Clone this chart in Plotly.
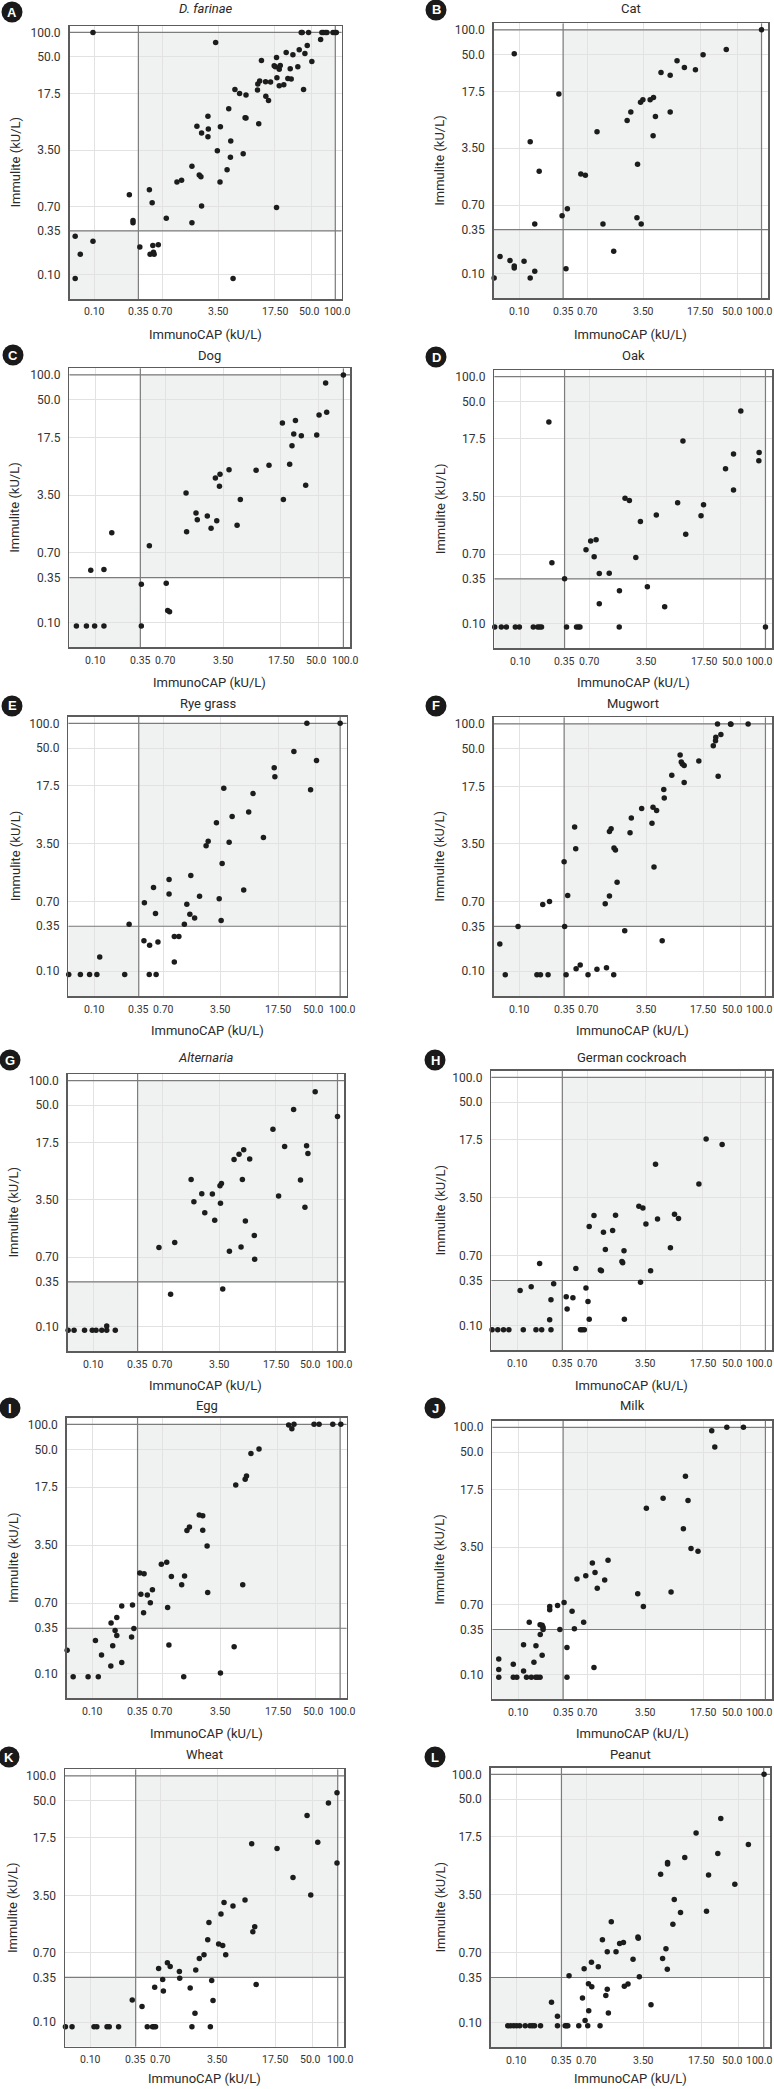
import math
import plotly.graph_objects as go

# ---------------- data (kU/L): ImmunoCAP (x) vs Immulite (y) ----------------
TICK_VALS = [0.1, 0.35, 0.7, 3.5, 17.5, 50, 100]
X_TICK_TEXT = ["0.10", "0.35", "0.70", "3.50", "17.50", "50.0", "100.0"]
Y_TICK_TEXT = ["0.10", "0.35", "0.70", "3.50", "17.5", "50.0", "100.0"]
CUTOFF = 0.35
UPPER = 100

a_cap = [0.095, 0.057, 0.095, 0.066, 0.057, 0.27, 0.30, 0.30, 0.365, 0.48, 0.52, 0.49, 0.53, 0.54, 0.55, 0.62,
         0.78, 1.06, 1.21, 1.63, 1.63, 2.01, 2.11, 1.88, 2.15, 2.15, 2.58, 2.61, 2.58, 3.22, 3.38, 3.65, 3.69,
         4.47, 4.69, 4.97, 4.92, 5.31, 5.6, 6.4, 7.1, 7.5, 7.7, 7.7, 10.7, 10.8, 11.1, 11.4, 12, 13.5, 13.6,
         14.7, 15.6, 17.3, 17.9, 18.5, 18.5, 18.7, 20, 20, 20.6, 22.8, 24.4, 25.6, 28.2, 27.4, 29.6, 34.1, 35.5,
         37.6, 38.7, 40.2, 41.8, 44.7, 46.4, 51, 65.6, 68, 70.8, 75, 78.7, 93.6, 99, 103]
a_imm = [100, 0.30, 0.26, 0.18, 0.090, 0.98, 0.44, 0.47, 0.22, 1.13, 0.78, 0.18, 0.23, 0.19, 0.18, 0.235,
         0.50, 1.41, 1.48, 2.21, 0.44, 1.72, 1.64, 6.9, 5.7, 0.71, 9.2, 6.4, 5.1, 75, 3.44, 1.41, 6.8,
         2.0, 11.4, 4.54, 2.85, 0.090, 19.7, 17.5, 3.16, 8.8, 8.7, 16.8, 19.4, 23, 7.4, 25, 45, 24.5, 16.2,
         14.4, 24.3, 38.7, 37.7, 49, 0.68, 27.5, 21.9, 35, 39, 22.5, 56.6, 27, 26.5, 35.6, 53, 37.7, 61,
         100, 100, 19.7, 55, 69, 100, 43.8, 82, 100, 100, 100, 100, 100, 100, 100]

b_cap = [0.087, 0.31, 0.137, 0.177, 0.156, 0.34, 0.395, 0.058, 0.077, 0.087, 0.087, 0.115, 0.156, 0.137, 0.049,
         0.38, 0.58, 0.66, 0.92, 1.09, 1.48, 2.17, 2.41, 2.87, 2.92, 3.18, 3.4, 3.24, 4.18, 4.6, 4.55, 4.86,
         5.7, 7.4, 7.4, 9.0, 11.1, 15.2, 18.9, 36.6, 100]
b_imm = [50.7, 16.2, 4.2, 1.83, 0.41, 0.52, 0.63, 0.164, 0.146, 0.125, 0.118, 0.143, 0.108, 0.089, 0.089,
         0.116, 1.69, 1.63, 5.6, 0.41, 0.19, 7.7, 9.8, 0.49, 2.23, 12.9, 13.8, 0.41, 13.8, 14.7, 4.97, 8.6,
         29.8, 27.7, 9.8, 41.6, 34.4, 32.2, 49.2, 57.3, 100]

c_cap = [0.048, 0.059, 0.078, 0.098, 0.127, 0.36, 0.088, 0.127, 0.158, 0.36, 0.45, 0.72, 0.75, 0.79, 1.25,
         1.27, 1.65, 1.71, 2.26, 2.51, 2.83, 2.94, 3.22, 3.17, 4.14, 5.18, 5.67, 8.8, 12.6, 18.3, 18.8, 22.4,
         23.9, 25.1, 26.3, 31, 35, 47.6, 50.8, 61, 62.8, 100]
c_imm = [0.091, 0.091, 0.091, 0.091, 0.091, 0.091, 0.43, 0.44, 1.22, 0.29, 0.85, 0.30, 0.14, 0.135, 3.72,
         1.26, 2.13, 1.76, 1.95, 1.39, 5.65, 1.71, 6.25, 4.48, 7.1, 1.51, 3.09, 7.0, 8.04, 26.1, 3.1, 8.3,
         13.9, 19.2, 28, 18.3, 4.6, 18.7, 32.6, 80, 35.4, 100]

d_cap = [0.049, 0.059, 0.068, 0.0875, 0.098, 0.145, 0.164, 0.173, 0.183, 0.37, 0.49, 0.52, 0.54, 1.63, 100,
         0.225, 0.245, 0.35, 0.64, 0.73, 0.85, 0.805, 0.93, 1.23, 0.93, 1.64, 1.92, 2.17, 2.6, 2.96, 3.6,
         4.63, 5.86, 8.44, 9.8, 10.6, 16.3, 17.5, 32.5, 40.7, 40.7, 50, 83.7, 83]
d_imm = [0.091, 0.091, 0.091, 0.091, 0.091, 0.091, 0.091, 0.091, 0.091, 0.091, 0.091, 0.091, 0.091, 0.091, 0.091,
         28.1, 0.55, 0.35, 0.79, 1.01, 1.04, 0.65, 0.405, 0.41, 0.174, 0.25, 3.34, 3.13, 0.635, 1.74, 0.28,
         2.08, 0.16, 2.94, 16.5, 1.22, 2.04, 2.77, 7.6, 11.5, 4.19, 38.2, 12, 9.5]

e_cap = [0.049, 0.068, 0.088, 0.108, 0.236, 0.47, 0.57, 0.117, 0.267, 0.405, 0.475, 0.60, 0.95, 1.08, 0.95,
         0.41, 0.53, 0.56, 0.82, 0.82, 1.26, 1.35, 1.47, 1.68, 1.51, 1.93, 2.32, 2.46, 3.1, 3.35, 3.54, 3.64,
         3.81, 4.43, 4.82, 6.67, 7.67, 8.67, 11.6, 15.7, 16, 27.3, 39.3, 43.6, 51.5, 100]
e_imm = [0.091, 0.091, 0.091, 0.091, 0.091, 0.091, 0.091, 0.149, 0.37, 0.233, 0.206, 0.226, 0.263, 0.263, 0.129,
         0.676, 1.03, 0.50, 1.29, 0.86, 0.37, 0.646, 0.49, 0.44, 1.44, 0.805, 3.29, 3.74, 6.28, 0.755, 0.41, 2.01,
         16.4, 3.64, 7.43, 0.96, 8.45, 14.1, 4.14, 28.9, 22.5, 45.5, 100, 15.7, 35.5, 100]

f_cap = [0.048, 0.067, 0.163, 0.18, 0.223, 0.37, 0.685, 1.41, 0.0575, 0.096, 0.192, 0.232, 0.35, 0.355, 0.387,
         0.47, 0.485, 0.49, 0.55, 0.88, 1.15, 1.11, 1.25, 1.25, 1.31, 1.42, 1.48, 1.55, 1.92, 2.23, 2.31, 3.09,
         4.13, 4.25, 4.37, 4.7, 5.5, 5.83, 5.75, 7.2, 9.1, 9.4, 9.7, 10.2, 10.2, 15.4, 23.1, 24.6, 24.8, 26.5,
         28.6, 26, 37.5, 37.9, 61.5]
f_imm = [0.091, 0.091, 0.091, 0.091, 0.091, 0.091, 0.091, 0.091, 0.214, 0.35, 0.646, 0.70, 2.13, 0.35, 0.83,
         5.6, 3.06, 0.107, 0.119, 0.106, 0.11, 0.66, 0.82, 4.97, 5.35, 3.12, 2.95, 1.2, 0.31, 4.79, 7.2, 9.4,
         6.25, 9.77, 1.84, 8.9, 0.235, 12.6, 16, 23.8, 41.9, 34.4, 32.6, 31.4, 19.5, 35.4, 54.2, 62.3, 69, 23.1,
         74.3, 100, 100, 99, 100]

g_cap = [0.049, 0.058, 0.078, 0.097, 0.108, 0.127, 0.146, 0.186, 0.146, 0.64, 0.89, 1.0, 1.59, 1.72, 2.15,
         2.34, 2.9, 3.1, 3.6, 3.75, 3.65, 3.89, 4.7, 5.36, 6.17, 7.04, 6.78, 6.53, 7.38, 8.34, 9.5, 9.6, 16.1,
         18.9, 22.4, 28.9, 35.1, 39.8, 41.7, 43.3, 53.2, 100]
g_imm = [0.090, 0.090, 0.090, 0.090, 0.090, 0.090, 0.090, 0.090, 0.101, 0.92, 0.247, 1.06, 6.2, 3.33, 4.17,
         2.44, 4.14, 1.97, 5.2, 5.56, 3.18, 0.287, 0.826, 10.9, 12.6, 14.3, 6.2, 0.93, 1.94, 11, 1.29, 0.66, 25.5,
         3.9, 15.7, 44.4, 6.1, 2.84, 16, 12.9, 72.8, 36.4]

h_cap = [0.0495, 0.058, 0.068, 0.079, 0.118, 0.168, 0.197, 0.255, 0.58, 0.61, 0.646, 0.108, 0.147, 0.186,
         0.246, 0.255, 0.275, 0.39, 0.40, 0.47, 0.51, 0.676, 0.715, 0.74, 0.74, 0.845, 1.01, 1.04, 1.1, 1.16,
         1.42, 1.54, 1.84, 1.88, 1.95, 1.97, 2.95, 3.3, 3.09, 3.59, 4.09, 4.69, 4.96, 7.1, 7.96, 8.9, 15.7,
         19.2, 30]
h_imm = [0.089, 0.089, 0.089, 0.089, 0.089, 0.089, 0.089, 0.089, 0.089, 0.089, 0.089, 0.265, 0.294, 0.56,
         0.117, 0.205, 0.32, 0.222, 0.158, 0.216, 0.49, 0.283, 0.195, 0.119, 1.57, 2.13, 0.467, 0.458, 1.34, 0.83,
         1.41, 2.15, 0.594, 0.573, 0.80, 0.119, 2.77, 2.64, 0.334, 1.68, 0.458, 8.9, 1.94, 0.87, 2.21, 1.96, 5.15,
         18, 15.4]

i_cap = [0.048, 0.058, 0.088, 0.117, 1.27, 3.54, 0.049, 0.108, 0.128, 0.166, 0.175, 0.167, 0.187, 0.196, 0.196,
         0.225, 0.225, 0.296, 0.304, 0.316, 0.373, 0.42, 0.384, 0.414, 0.46, 0.50, 0.53, 0.68, 0.79, 0.81, 0.84,
         0.90, 1.2, 1.3, 1.39, 1.49, 1.96, 2.16, 2.16, 2.44, 2.48, 5.19, 5.43, 6.6, 7.06, 7.33, 8.3, 10.4, 23.8,
         26, 27.6, 48.3, 55.6, 81.5, 102]
i_imm = [0.091, 0.091, 0.091, 0.091, 0.091, 0.101, 0.19, 0.249, 0.166, 0.123, 0.216, 0.405, 0.328, 0.286, 0.47,
         0.135, 0.65, 0.275, 0.668, 0.347, 1.62, 1.59, 0.897, 0.536, 0.88, 0.71, 1.02, 2.07, 2.18, 0.62, 0.22,
         1.47, 1.17, 1.49, 5.25, 5.8, 8.1, 7.9, 5.3, 3.43, 0.94, 0.21, 18.6, 1.17, 21.8, 23.9, 44.4, 50.5, 98,
         88.7, 100, 100, 100, 100, 100]

j_cap = [0.048, 0.058, 0.087, 0.096, 0.126, 0.144, 0.163, 0.172, 0.184, 0.39, 0.058, 0.058, 0.087, 0.116, 0.116,
         0.136, 0.155, 0.164, 0.185, 0.184, 0.195, 0.20, 0.20, 0.195, 0.241, 0.241, 0.30, 0.32, 0.36, 0.39, 0.45,
         0.48, 0.516, 0.622, 0.66, 0.794, 0.83, 0.855, 0.91, 1.12, 1.23, 2.82, 3.3, 3.59, 5.73, 7.16, 10.1, 10.7,
         11.5, 12.5, 15.2, 22.3, 24.3, 34, 54.1]
j_imm = [0.092, 0.092, 0.092, 0.092, 0.092, 0.092, 0.092, 0.092, 0.092, 0.092, 0.114, 0.153, 0.132, 0.11, 0.229,
         0.43, 0.14, 0.222, 0.305, 0.40, 0.395, 0.374, 0.35, 0.17, 0.665, 0.61, 0.685, 0.35, 0.745, 0.212, 0.585,
         0.357, 1.44, 0.43, 1.57, 2.25, 0.121, 1.72, 1.11, 1.4, 2.42, 0.95, 0.665, 10.4, 13.7, 1.0, 5.86, 25.5,
         12.9, 3.36, 3.12, 91, 57.8, 100, 100]

k_cap = [0.049, 0.059, 0.109, 0.118, 0.157, 0.167, 0.217, 0.484, 0.56, 0.583, 0.61, 1.69, 2.83, 0.318, 0.418,
         0.596, 0.745, 0.76, 0.665, 0.85, 0.92, 1.19, 1.2, 1.61, 1.84, 1.88, 2.08, 2.37, 2.63, 2.72, 2.94, 3.05,
         3.57, 4.0, 3.81, 4.15, 4.35, 5.33, 7.47, 9.0, 9.3, 9.8, 10.2, 18.3, 28.6, 42.4, 47, 57.2, 77.1, 98, 98]
k_imm = [0.088, 0.088, 0.088, 0.088, 0.088, 0.088, 0.088, 0.088, 0.088, 0.088, 0.088, 0.088, 0.088, 0.186, 0.155,
         0.265, 0.331, 0.239, 0.45, 0.527, 0.476, 0.414, 0.343, 0.26, 0.128, 0.43, 0.594, 0.66, 1.01, 1.64, 0.322,
         0.183, 0.895, 0.86, 2.07, 2.86, 0.66, 2.6, 3.08, 14.9, 1.26, 1.45, 0.288, 13, 5.78, 32.8, 3.53, 15.5,
         46.7, 62.2, 8.7]

l_cap = [0.078, 0.0845, 0.092, 0.0998, 0.109, 0.127, 0.145, 0.155, 0.165, 0.195, 0.313, 0.388, 0.403, 0.418,
         0.568, 0.73, 1.03, 0.265, 0.313, 0.433, 0.63, 0.66, 0.678, 0.745, 0.817, 0.75, 0.81, 0.98, 1.1, 1.21,
         1.26, 1.26, 1.3, 1.41, 1.61, 1.78, 1.98, 2.03, 2.25, 2.59, 2.97, 3.0, 3.09, 4.28, 5.6, 5.92, 6.5, 6.75,
         6.8, 6.8, 7.89, 8.2, 9.77, 11, 15.1, 20.2, 21.4, 27.7, 30.1, 44.6, 65.1, 101]
l_imm = [0.091, 0.091, 0.091, 0.091, 0.091, 0.091, 0.091, 0.091, 0.091, 0.091, 0.091, 0.091, 0.091, 0.091,
         0.091, 0.091, 0.091, 0.176, 0.119, 0.366, 0.197, 0.445, 0.106, 0.294, 0.27, 0.139, 0.536, 0.471, 1.0,
         0.212, 0.253, 0.715, 0.13, 1.65, 0.715, 0.9, 0.927, 0.275, 0.291, 0.583, 1.08, 1.04, 0.356, 0.164, 6.2,
         0.594, 0.78, 0.44, 8.57, 8.26, 1.54, 3.06, 2.13, 9.86, 19.5, 2.21, 6.08, 11, 29.2, 4.7, 14.2, 100]

letters = ["A", "B", "C", "D", "E", "F", "G", "H", "I", "J", "K", "L"]
titles = ["<i>D. farinae</i>", "Cat", "Dog", "Oak", "Rye grass", "Mugwort", "<i>Alternaria</i>",
          "German cockroach", "Egg", "Milk", "Wheat", "Peanut"]
caps = [a_cap, b_cap, c_cap, d_cap, e_cap, f_cap, g_cap, h_cap, i_cap, j_cap, k_cap, l_cap]
imms = [a_imm, b_imm, c_imm, d_imm, e_imm, f_imm, g_imm, h_imm, i_imm, j_imm, k_imm, l_imm]

# ---------------- layout geometry (pixels) ----------------
W, H = 774, 2089
boxes = [
    (69.5, 341.7, 26, 299), (493.7, 768, 23.3, 298.3),
    (69.3, 350, 368.3, 647.3), (494.3, 772, 370, 648.3),
    (68.3, 346.7, 716.7, 996), (493.7, 772, 717.3, 996),
    (67.7, 344, 1074, 1351), (491.3, 772, 1070.7, 1350.3),
    (66.7, 346.7, 1417.7, 1698.3), (492.3, 772, 1420.7, 1699),
    (65, 344.3, 1769.3, 2046.7), (490.7, 770.3, 1767.7, 2047.3),
]
title_y = [8, 8, 355, 355, 703, 703, 1057, 1057, 1405, 1405, 1754, 1754]
xtitle_y = [335, 335, 683, 683, 1031, 1031, 1385, 1385, 1733, 1733, 2078, 2078]
ytitle_x = [15, 440, 15, 440, 15, 440, 13, 440, 13, 440, 12, 440]
badge = [(12, 12), (436, 10), (13, 355), (436, 357), (12, 706), (436, 706),
         (10, 1060), (435, 1060), (10, 1408), (435, 1408), (9, 1757), (435, 1757)]

XR = [-1.315, 2.08]
YR = [-1.30, 2.08]
FONT = "Roboto, 'Liberation Sans Narrow', sans-serif"
SHADE = "#f0f1f1"
GRID = "#e2e2e2"
REFLINE = "#7c7c7c"
FRAME = "#5c5c5c"
TXT = "#2a2a2a"


def px(x):
    return x / W


def py(y):
    return 1 - y / H


fig = go.Figure()
shapes = []
annotations = []
layout_axes = {}
xlo, xhi = 10 ** XR[0], 10 ** XR[1]
ylo, yhi = 10 ** YR[0], 10 ** YR[1]
right_edge_pos = {50: 745.0, 100: 773.5}   # right column: labels pushed inside the page
left_nudge = {50: -2, 100: 2}               # small separation of crowded labels

for i in range(12):
    n = i + 1
    xs = "" if n == 1 else str(n)
    x0, x1, y0, y1 = boxes[i]
    xref, yref = "x" + xs, "y" + xs
    right_col = (i % 2 == 1)

    # cut-off / upper-limit reference lines (drawn under the dots)
    fig.add_trace(go.Scatter(
        x=[CUTOFF, CUTOFF, None, UPPER, UPPER, None, xlo, xhi, None, xlo, xhi],
        y=[ylo, yhi, None, ylo, yhi, None, CUTOFF, CUTOFF, None, UPPER, UPPER],
        mode="lines", line=dict(color=REFLINE, width=1.2), xaxis=xref, yaxis=yref,
        showlegend=False, hoverinfo="skip"))
    fig.add_trace(go.Scatter(
        x=caps[i], y=imms[i], mode="markers", xaxis=xref, yaxis=yref,
        marker=dict(size=5.5, color="#1c1c1c", line=dict(width=0)),
        cliponaxis=False, showlegend=False, hoverinfo="x+y"))

    common = dict(type="log", tickvals=TICK_VALS, showgrid=True, gridcolor=GRID, gridwidth=1,
                  showline=True, mirror=True, linecolor=FRAME, linewidth=1.5, zeroline=False,
                  fixedrange=True)
    layout_axes["xaxis" + xs] = dict(common, range=XR, showticklabels=False, ticks="",
                                     domain=[px(x0), px(x1)], anchor=yref)
    layout_axes["yaxis" + xs] = dict(common, range=YR, ticktext=Y_TICK_TEXT, tickangle=0,
                                     ticks="outside", ticklen=5, tickcolor="rgba(0,0,0,0)",
                                     tickfont=dict(family=FONT, size=12, color="#333333"),
                                     domain=[py(y1), py(y0)], anchor=xref)

    # x tick labels (placed as text under each tick)
    for v, t in zip(TICK_VALS, X_TICK_TEXT):
        if right_col and v in right_edge_pos:
            annotations.append(dict(text=t, xref="paper", yref="paper", x=px(right_edge_pos[v]),
                                    y=py(y1 + 13), xanchor="right", yanchor="middle", showarrow=False,
                                    font=dict(family=FONT, size=10.5, color="#333333")))
        else:
            annotations.append(dict(text=t, xref=xref, yref="paper", x=math.log10(v), y=py(y1 + 13),
                                    xanchor="center", yanchor="middle", showarrow=False,
                                    xshift=left_nudge.get(v, 0),
                                    font=dict(family=FONT, size=10.5, color="#333333")))

    # shaded concordance regions
    shapes.append(dict(type="rect", xref=xref, yref=yref, x0=CUTOFF, x1=UPPER, y0=CUTOFF, y1=UPPER,
                       fillcolor=SHADE, line=dict(width=0), layer="below"))
    shapes.append(dict(type="rect", xref=xref, yref=yref, x0=xlo, x1=CUTOFF, y0=ylo, y1=CUTOFF,
                       fillcolor=SHADE, line=dict(width=0), layer="below"))

    # panel badge
    bx, by = badge[i]
    r = 10.5
    shapes.append(dict(type="circle", xref="paper", yref="paper",
                       x0=px(bx - r), x1=px(bx + r), y0=py(by + r), y1=py(by - r),
                       fillcolor="#1a1a1a", line=dict(width=0)))
    annotations.append(dict(text="<b>%s</b>" % letters[i], xref="paper", yref="paper",
                            x=px(bx), y=py(by), showarrow=False, xanchor="center", yanchor="middle",
                            font=dict(family="Arial, 'Liberation Sans', sans-serif", size=13, color="white")))
    cx = (x0 + x1) / 2
    annotations.append(dict(text=titles[i], xref="paper", yref="paper", x=px(cx), y=py(title_y[i]),
                            showarrow=False, xanchor="center", yanchor="middle",
                            font=dict(family=FONT, size=13, color=TXT)))
    annotations.append(dict(text="ImmunoCAP (kU/L)", xref="paper", yref="paper", x=px(cx),
                            y=py(xtitle_y[i]), showarrow=False, xanchor="center", yanchor="middle",
                            font=dict(family=FONT, size=13, color=TXT)))
    annotations.append(dict(text="Immulite (kU/L)", xref="paper", yref="paper", x=px(ytitle_x[i]),
                            y=py((y0 + y1) / 2), showarrow=False, textangle=-90,
                            xanchor="center", yanchor="middle",
                            font=dict(family=FONT, size=13, color=TXT)))

fig.update_layout(
    width=W, height=H, margin=dict(l=0, r=0, t=0, b=0),
    paper_bgcolor="white", plot_bgcolor="white",
    shapes=shapes, annotations=annotations, showlegend=False,
    font=dict(family=FONT), hovermode=False,
    **layout_axes)

fig.write_html("out.html", config={"displayModeBar": False, "staticPlot": True},
               post_script="document.body.style.margin='0';document.body.style.overflow='hidden';")
